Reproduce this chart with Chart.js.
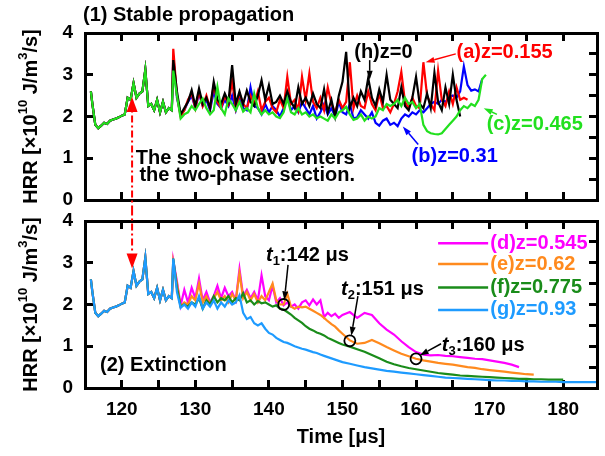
<!DOCTYPE html>
<html>
<head>
<meta charset="utf-8">
<script src="https://cdn.jsdelivr.net/npm/chart.js@4.4.1/dist/chart.umd.min.js"></script>
<style>
  html, body { margin: 0; padding: 0; background: #fff; overflow: hidden; }
  #wrap { position: relative; width: 605px; height: 456px; }
  #wrap canvas { position: absolute; left: 0; }
  #topPanel { top: 0; }
  #bottomPanel { top: 212px; }
</style>
</head>
<body>
<div id="wrap">
  <canvas id="topPanel" width="605" height="212"></canvas>
  <canvas id="bottomPanel" width="605" height="244"></canvas>
</div>
<script>
const FAMILY = '"Liberation Sans", Arial, Helvetica, sans-serif';

// time [μs] / HRR [x1e10 J/m3/s]
// start of the run, identical at every probe
const tStart = [115.8, 116.0, 116.4, 116.8, 117.2, 117.6, 118.0, 118.4, 118.8, 119.2, 119.6, 120.0, 120.4, 120.8,
  121.2, 121.6, 122.0, 122.4, 122.8, 123.2, 123.6, 124.0, 124.4, 124.8, 125.2, 125.6, 126.0, 126.4, 126.8];
const hrrStart = [2.6, 2.3, 1.8, 1.72, 1.78, 1.85, 1.82, 1.9, 1.93, 1.95, 1.98, 2.02, 2.05, 2.45,
  2.4, 2.8, 2.45, 2.55, 2.6, 3.12, 2.25, 2.3, 2.15, 2.4, 2.1, 2.35, 2.1, 2.2, 2.15];

// (1) stable propagation
const tTop = [127, 127.5, 128, 128.5, 129, 129.5, 130, 130.5, 131, 131.5,
  132, 132.5, 133, 133.5, 134, 134.5, 135, 135.5, 136, 136.5,
  137, 137.5, 138, 138.5, 139, 139.5, 140, 140.5, 141, 141.5,
  142, 142.5, 143, 143.5, 144, 144.5, 145, 145.5, 146, 146.5,
  147, 147.5, 148, 148.5, 149, 149.5, 150, 150.5, 151, 151.5,
  152, 152.5, 153, 153.5, 154, 154.5, 155, 155.5, 156, 156.5,
  157, 157.5, 158, 158.5, 159, 159.5, 160, 160.5, 161, 161.5,
  162, 162.5, 163, 163.5, 164, 164.5, 165, 165.5, 166, 166.5,
  167, 167.5, 168, 168.5, 169, 169.5, 170];
const hrrH = [3.35, 2.6, 2.05, 2.2, 2.35, 2.63, 2.25, 2.67, 2.3, 2.45,
  2.2, 2.83, 2.4, 2.3, 2.55, 2.35, 3.23, 2.3, 2.6, 2.3,
  2.62, 2.35, 2.25, 2.5, 2.87, 2.4, 2.75, 2.3, 2.35, 2.5,
  2.3, 2.6, 2.35, 2.2, 2.7, 2.3, 2.45, 2.25, 2.55, 2.3,
  2.2, 2.65, 2.1, 2.4, 2.0, 2.5, 2.83, 3.55, 2.2, 2.45,
  2.25, 2.6, 2.4, 2.92, 2.45, 2.25, 2.65, 2.35, 3.0, 2.4,
  2.3, 2.2, 2.7, 2.25, 2.15, 2.45, 2.95, 2.3, 2.2, 2.55,
  2.2, 3.05, 2.35, 2.15, 2.7, 2.3, 3.0, 2.4, 2.0];
const hrrA = [3.62, 2.5, 2.0, 2.15, 2.4, 2.55, 2.2, 2.6, 2.25, 2.5,
  2.2, 2.75, 2.35, 2.2, 2.5, 2.3, 2.85, 2.2, 2.55, 2.3,
  2.2, 2.5, 2.3, 2.6, 2.15, 2.35, 2.45, 2.2, 2.1, 2.4,
  2.2, 2.95, 2.3, 2.4, 2.15, 2.95, 2.4, 3.03, 2.35, 2.2,
  2.45, 2.15, 2.7, 2.3, 2.1, 2.4, 2.2, 2.35, 3.3, 2.2,
  2.5, 2.25, 2.2, 2.6, 2.3, 2.15, 2.55, 2.2, 2.25, 2.1,
  2.3, 2.6, 3.07, 2.35, 2.2, 2.45, 2.25, 2.2, 3.3, 2.5,
  2.3, 2.15, 3.1, 2.4, 2.25, 2.6, 2.3, 2.7, 2.4, 2.45, 2.4];
const hrrB = [3.45, 2.45, 2.05, 2.15, 2.35, 2.5, 2.2, 2.55, 2.25, 2.4,
  2.15, 2.6, 2.3, 2.2, 2.4, 2.25, 2.5, 2.15, 2.45, 2.2,
  2.15, 2.7, 2.25, 2.2, 2.05, 2.3, 2.1, 2.25, 2.15, 2.0,
  2.2, 2.5, 2.15, 2.25, 2.1, 2.35, 2.2, 2.05, 2.25, 1.95,
  2.1, 2.3, 2.05, 2.2, 2.0, 2.35, 2.1, 2.05, 2.3, 1.95,
  1.98, 2.15, 2.05, 1.95, 2.1, 1.85, 1.78, 1.9, 1.95, 1.8,
  1.85, 1.77, 1.95, 2.05, 2.0, 2.1, 2.05, 2.15, 2.1, 2.2,
  2.3, 2.35, 2.3, 2.4, 2.35, 2.45, 2.5, 2.45, 2.6, 3.2,
  2.75, 2.62, 2.65, 2.6, 2.9];
const hrrC = [3.1, 2.5, 1.95, 2.05, 2.1, 2.25, 2.15, 2.3, 2.43, 2.2,
  2.05, 2.15, 2.71, 2.2, 2.05, 2.43, 2.3, 2.15, 2.35, 2.12,
  2.2, 2.1, 2.55, 2.2, 2.05, 2.15, 2.05, 2.1, 2.0, 1.96,
  2.1, 2.43, 2.1, 2.05, 2.2, 2.05, 2.1, 2.0, 2.05, 1.96,
  2.0, 1.95, 1.9, 2.05, 1.95, 2.1, 2.15, 2.23, 2.05, 1.92,
  1.95, 2.05, 1.9, 2.0, 1.95, 2.0, 2.2, 2.15, 2.3, 2.25,
  2.3, 2.4, 2.25, 2.45, 2.3, 2.35, 2.2, 2.3, 1.8, 1.65,
  1.6, 1.58, 1.57, 1.6, 1.7, 1.8, 1.9, 2.0, 2.15, 2.25,
  2.2, 2.3, 2.25, 2.4, 2.9, 3.0];

// (2) extinction
const tBottom = [127, 127.5, 128, 128.5, 129, 129.5, 130, 130.5, 131, 131.5,
  132, 132.5, 133, 133.5, 134, 134.5, 135, 135.5, 136, 136.5,
  137, 137.5, 138, 138.5, 139, 139.5, 140, 140.5, 141, 141.5,
  142, 142.5, 143, 143.5, 144, 144.5, 145, 145.5, 146, 146.5,
  147, 147.5, 148, 148.5, 149, 149.5, 150,
  151, 152, 153, 154, 155, 156, 157, 158, 159, 160,
  161, 162, 163, 164, 165, 166, 167, 168, 169, 170,
  171, 172, 173, 174, 175, 176, 177, 178, 179, 180,
  181, 182, 183, 184, 185];
const hrrD = [3.05, 2.55, 1.98, 2.35, 2.05, 2.4, 2.15, 2.62, 2.1, 2.3,
  2.05, 2.2, 2.45, 2.15, 2.4, 2.2, 2.3, 2.1, 2.85, 2.2,
  2.35, 2.15, 2.3, 2.1, 2.7, 2.2, 2.1, 2.45, 2.05, 2.15,
  1.98, 2.05, 1.95, 2.0, 1.9, 2.05, 2.1, 1.98, 2.12, 2.0,
  2.1, 1.7, 1.8, 1.72, 1.78, 1.68, 1.75,
  1.82, 1.68, 1.8, 1.75, 1.55, 1.4, 1.28, 1.12, 0.98, 0.86,
  0.8, 0.78, 0.79, 0.77, 0.76, 0.74, 0.72, 0.7, 0.69, 0.66,
  0.63, 0.6, 0.56, 0.5];
const hrrE = [3.0, 2.5, 1.95, 2.05, 2.0, 2.2, 2.1, 2.5, 2.05, 2.2,
  2.0, 2.15, 2.3, 2.1, 2.2, 2.05, 2.25, 2.1, 2.75, 2.15,
  2.3, 2.1, 2.25, 2.05, 2.2, 2.1, 2.3, 2.5, 2.1, 2.0,
  2.0, 2.26, 1.95, 1.9, 1.95, 1.93, 1.95, 1.9, 1.85, 1.8,
  1.75, 1.68, 1.6, 1.53, 1.47, 1.38, 1.3,
  1.14, 1.06, 1.08, 1.15, 1.07, 0.98, 0.9, 0.82, 0.76, 0.7,
  0.66, 0.63, 0.6, 0.58, 0.56, 0.53, 0.5, 0.48, 0.45, 0.43,
  0.41, 0.39, 0.37, 0.35, 0.33, 0.32];
const hrrF = [3.1, 2.4, 1.95, 2.0, 1.95, 2.05, 2.0, 2.15, 1.9, 2.1,
  2.0, 2.2, 2.05, 2.15, 2.1, 2.2, 2.05, 2.15, 2.1, 2.27,
  2.05, 2.1, 2.0, 2.08, 2.03, 2.05, 2.0, 1.95, 1.98, 1.9,
  1.88, 1.82, 1.76, 1.68, 1.62, 1.56, 1.48, 1.42, 1.38, 1.33,
  1.3, 1.26, 1.2, 1.16, 1.12, 1.08, 1.04,
  0.99, 0.93, 0.87, 0.79, 0.71, 0.63, 0.57, 0.52, 0.48, 0.45,
  0.42, 0.39, 0.36, 0.34, 0.32, 0.3, 0.29, 0.28, 0.27, 0.26,
  0.25, 0.24, 0.23, 0.22, 0.22, 0.21, 0.21, 0.2, 0.2, 0.2];
const hrrG = [3.1, 2.3, 1.92, 2.0, 1.9, 2.05, 1.95, 2.2, 1.9, 2.05,
  1.95, 2.1, 1.9, 2.05, 1.95, 2.1, 2.0, 2.05, 2.22, 1.8,
  1.65, 1.7, 1.55, 1.5, 1.55, 1.42, 1.32, 1.28, 1.2, 1.15,
  1.1, 1.08, 1.04, 1.0, 0.97, 0.94, 0.92, 0.89, 0.86, 0.84,
  0.8, 0.77, 0.74, 0.71, 0.68, 0.65, 0.62,
  0.58, 0.54, 0.5, 0.47, 0.44, 0.41, 0.39, 0.37, 0.35, 0.33,
  0.31, 0.29, 0.27, 0.25, 0.24, 0.23, 0.22, 0.21, 0.2, 0.19,
  0.18, 0.18, 0.17, 0.17, 0.16, 0.16, 0.15, 0.15, 0.15, 0.14,
  0.14, 0.14, 0.14, 0.14, 0.14];

// extinction instants t1, t2, t3
const extinctionTimes = [142, 151, 160];
const extinctionHRR = [2.0, 1.13, 0.7];

function series(times, values) {
  const pts = tStart.map((t, i) => ({ x: t, y: hrrStart[i] }));
  values.forEach((v, i) => pts.push({ x: times[i], y: v }));
  return pts;
}

// text with italic / sub / sup pieces
function drawRuns(ctx, runs, x, y, size, color, align) {
  const parts = runs.map(([text, kind]) => {
    const small = kind === "sub" || kind === "sup";
    const s = small ? Math.round(size * 0.65) : size;
    const font = `${kind === "i" ? "italic " : ""}bold ${s}px ${FAMILY}`;
    ctx.font = font;
    const dy = kind === "sup" ? -size * 0.36 : kind === "sub" ? size * 0.28 : 0;
    return { text, font, dy, w: ctx.measureText(text).width };
  });
  const total = parts.reduce((s, p) => s + p.w, 0);
  let cx = align === "center" ? x - total / 2 : x;
  ctx.fillStyle = color;
  ctx.textAlign = "left";
  ctx.textBaseline = "middle";
  parts.forEach((p) => {
    ctx.font = p.font;
    ctx.fillText(p.text, cx, y + p.dy);
    cx += p.w;
  });
}

function drawArrow(ctx, x0, y0, x1, y1, a) {
  const ang = Math.atan2(y1 - y0, x1 - x0);
  const hl = a.head || 9, hw = a.headWidth || 6;
  const bx = x1 - hl * Math.cos(ang), by = y1 - hl * Math.sin(ang);
  ctx.strokeStyle = a.color || "#000";
  ctx.fillStyle = a.color || "#000";
  ctx.lineWidth = a.width || 1.5;
  ctx.setLineDash(a.dash || []);
  ctx.beginPath();
  ctx.moveTo(x0, y0);
  ctx.lineTo(bx, by);
  ctx.stroke();
  ctx.setLineDash([]);
  ctx.beginPath();
  ctx.moveTo(x1, y1);
  ctx.lineTo(bx + (hw / 2) * Math.sin(ang), by - (hw / 2) * Math.cos(ang));
  ctx.lineTo(bx - (hw / 2) * Math.sin(ang), by + (hw / 2) * Math.cos(ang));
  ctx.closePath();
  ctx.fill();
}

// labels, arrows, legend and y title
const notesPlugin = {
  id: "notes",
  afterDraw(chart, args, o) {
    const ctx = chart.ctx;
    const a = chart.chartArea;
    const x = chart.scales.x, y = chart.scales.y;
    const px = (t) => x.getPixelForValue(t);
    const py = (v) => y.getPixelForValue(v);
    ctx.save();
    (o.arrows || []).forEach((ar) => drawArrow(ctx, px(ar.from[0]), py(ar.from[1]), px(ar.to[0]), py(ar.to[1]), ar));
    (o.texts || []).forEach((n) => drawRuns(ctx, n.runs, px(n.at[0]), py(n.at[1]), 20, n.color || "#000"));
    if (o.legend) {
      const lg = o.legend;
      chart.data.datasets.forEach((ds) => {
        if (ds.legendRow === undefined) return;
        const yy = py(lg.rows[ds.legendRow]);
        ctx.strokeStyle = ds.borderColor;
        ctx.lineWidth = 2.5;
        ctx.beginPath();
        ctx.moveTo(px(lg.line[0]), yy);
        ctx.lineTo(px(lg.line[1]), yy);
        ctx.stroke();
        drawRuns(ctx, [[ds.label]], px(lg.textAt), yy, 20, ds.borderColor);
      });
    }
    ctx.translate(31, (a.top + a.bottom) / 2);
    ctx.rotate(-Math.PI / 2);
    drawRuns(ctx, [["HRR [×10"], ["10", "sup"], [" J/m"], ["3", "sup"], ["/s]"]], 0, 0, 20, "#000", "center");
    ctx.restore();
  },
};

const tickFont = { family: FAMILY, size: 19, weight: "bold" };
// inward tick marks + thick box edge
const frameGrid = { display: true, drawOnChartArea: false, drawTicks: true, tickLength: -8, tickWidth: 3, tickColor: "#000" };
const frameBorder = { display: true, width: 3, color: "#000", z: 1 };

function panelOptions(padding, xHeight, showX, notes) {
  const tMin = 115, tMax = 184.6;
  return {
    responsive: false,
    animation: false,
    devicePixelRatio: 1,
    layout: { padding: padding },
    elements: {
      point: { radius: 0 },
      line: { borderWidth: 2.2, tension: 0 },
    },
    plugins: {
      legend: { display: false },
      tooltip: { enabled: false },
      notes: notes,
    },
    scales: {
      x: {
        type: "linear",
        position: "bottom",
        min: tMin,
        max: tMax,
        grid: frameGrid,
        border: frameBorder,
        ticks: {
          display: showX,
          stepSize: 5,
          includeBounds: false,
          autoSkip: false,
          maxRotation: 0,
          padding: 18,
          color: "#000",
          font: tickFont,
          callback: (v) => (v % 10 === 0 ? v : ""),
        },
        title: {
          display: showX,
          text: "Time [μs]",
          color: "#000",
          font: { family: FAMILY, size: 20, weight: "bold" },
          padding: { top: 0, bottom: 7 },
        },
        afterFit: (s) => { s.height = xHeight; s.paddingLeft = 0; s.paddingRight = 0; },
      },
      y: {
        position: "left",
        min: 0,
        max: 4,
        grid: frameGrid,
        border: frameBorder,
        ticks: {
          stepSize: 0.5,
          padding: 20,
          color: "#000",
          font: tickFont,
          callback: (v) => (Number.isInteger(v) ? v : ""),
        },
        afterFit: (s) => { s.width = 85; s.paddingTop = 0; s.paddingBottom = 0; },
      },
      xTop: {
        type: "linear",
        position: "top",
        min: tMin,
        max: tMax,
        grid: frameGrid,
        border: frameBorder,
        ticks: { display: false, stepSize: 5, includeBounds: false },
        afterFit: (s) => { s.height = 0; s.paddingLeft = 0; s.paddingRight = 0; },
      },
      yRight: {
        position: "right",
        min: 0,
        max: 4,
        grid: frameGrid,
        border: frameBorder,
        ticks: { display: false, stepSize: 0.5 },
        afterFit: (s) => { s.width = 0; s.paddingTop = 0; s.paddingBottom = 0; },
      },
    },
  };
}

const markerSet = {
  type: "scatter",
  data: extinctionTimes.map((t, i) => ({ x: t, y: extinctionHRR[i] })),
  pointRadius: 5.5,
  pointBorderWidth: 1.8,
  pointBorderColor: "#000",
  pointBackgroundColor: "rgba(0,0,0,0)",
  order: -1,
};

new Chart(document.getElementById("topPanel"), {
  type: "line",
  data: {
    datasets: [
      { label: "(c)z=0.465", data: series(tTop, hrrC), borderColor: "#22e01e", order: 0 },
      { label: "(h)z=0", data: series(tTop, hrrH), borderColor: "#000000", order: 1 },
      { label: "(a)z=0.155", data: series(tTop, hrrA), borderColor: "#ff0000", order: 2 },
      { label: "(b)z=0.31", data: series(tTop, hrrB), borderColor: "#0000ff", order: 3 },
    ],
  },
  options: panelOptions({ top: 33, right: 8, left: 0, bottom: 0 }, 12, false, {
    texts: [
      { at: [114.73, 4.43], runs: [["(1) Stable propagation"]] },
      { at: [151.6, 3.53], runs: [["(h)z=0"]] },
      { at: [165.5, 3.53], runs: [["(a)z=0.155"]], color: "#ff0000" },
      { at: [159.4, 1.05], runs: [["(b)z=0.31"]], color: "#0000ff" },
      { at: [169.6, 1.8], runs: [["(c)z=0.465"]], color: "#22e01e" },
      { at: [121.9, 1.0], runs: [["The shock wave enters"]] },
      { at: [122.4, 0.58], runs: [["the two-phase section."]] },
    ],
    arrows: [
      { from: [153.7, 3.35], to: [153.7, 2.88] },
      { from: [165.4, 3.5], to: [161.3, 3.3], color: "#ff0000" },
      { from: [160.3, 1.33], to: [158.2, 1.76], color: "#0000ff" },
      { from: [171.0, 2.05], to: [169.2, 2.2], color: "#22e01e" },
      { from: [121.4, -0.3], to: [121.4, 2.47], color: "#ff0000", width: 2, dash: [7, 3, 2, 3], head: 15, headWidth: 11 },
    ],
  }),
  plugins: [notesPlugin],
});

new Chart(document.getElementById("bottomPanel"), {
  type: "line",
  data: {
    datasets: [
      { label: "(g)z=0.93", data: series(tBottom, hrrG), borderColor: "#1e9bff", order: 0, legendRow: 3 },
      { label: "(f)z=0.775", data: series(tBottom, hrrF), borderColor: "#1a8c1a", order: 1, legendRow: 2 },
      { label: "(e)z=0.62", data: series(tBottom, hrrE), borderColor: "#ff8a1e", order: 2, legendRow: 1 },
      { label: "(d)z=0.545", data: series(tBottom, hrrD), borderColor: "#ff00ff", order: 3, legendRow: 0 },
      markerSet,
    ],
  },
  options: panelOptions({ top: 9, right: 8, left: 0, bottom: 0 }, 68, true, {
    texts: [
      { at: [117.05, 0.55], runs: [["(2) Extinction"]] },
      { at: [139.6, 3.17], runs: [["t", "i"], ["1", "sub"], [":142 μs"]] },
      { at: [149.8, 2.35], runs: [["t", "i"], ["2", "sub"], [":151 μs"]] },
      { at: [163.5, 1.02], runs: [["t", "i"], ["3", "sub"], [":160 μs"]] },
    ],
    arrows: [
      { from: [142.6, 2.95], to: [142.1, 2.1] },
      { from: [152.1, 2.2], to: [151.2, 1.25] },
      { from: [163.4, 1.06], to: [160.5, 0.78] },
      { from: [121.4, 4.3], to: [121.4, 2.86], color: "#ff0000", width: 2, dash: [7, 3, 2, 3], head: 15, headWidth: 11 },
    ],
    legend: { rows: [3.47, 2.97, 2.41, 1.87], line: [163.0, 169.8], textAt: 170.1 },
  }),
  plugins: [notesPlugin],
});
</script>
</body>
</html>
